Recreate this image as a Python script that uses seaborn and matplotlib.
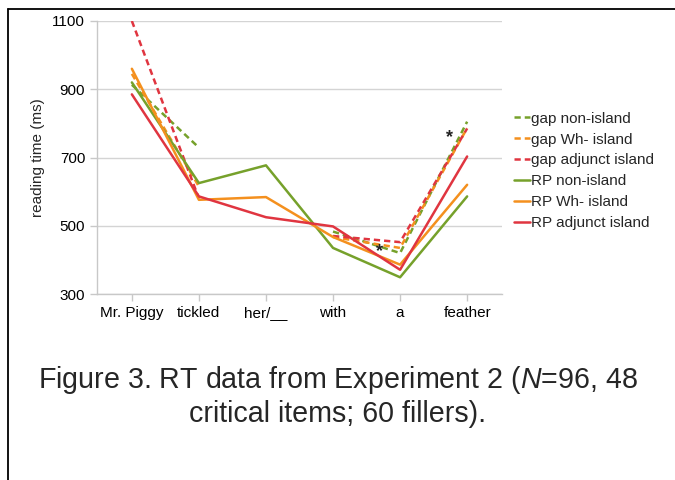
import numpy as np
import pandas as pd
import matplotlib
matplotlib.use("Agg")
import matplotlib.pyplot as plt
from matplotlib.lines import Line2D
import seaborn as sns

# ===============================
# DATA
# ===============================
words = ["Mr. Piggy", "tickled", "her/__", "with", "a", "feather"]
nan = np.nan

gap_non_island = [913, 729, nan, 483, 420, 805]
gap_wh_island = [945, 615, nan, 467, 435, 786]
gap_adjunct_island = [1100, 580, nan, 470, 452, 785]
rp_non_island = [920, 625, 677, 435, 349, 586]
rp_wh_island = [960, 576, 584, 467, 386, 620]
rp_adjunct_island = [885, 586, 525, 498, 371, 703]

series_names = ["gap non-island", "gap Wh- island", "gap adjunct island",
                "RP non-island", "RP Wh- island", "RP adjunct island"]
series_values = [gap_non_island, gap_wh_island, gap_adjunct_island,
                 rp_non_island, rp_wh_island, rp_adjunct_island]

# significance stars (x position in word units, y in ms)
star_x = [3.70, 4.73]
star_y = [423, 757]

# ===============================
# STYLE
# ===============================
sns.set_theme(style="white")
plt.rcParams["font.family"] = ["Liberation Sans", "DejaVu Sans"]
plt.rcParams["mathtext.fontset"] = "custom"
plt.rcParams["mathtext.it"] = "Liberation Sans:italic"
plt.rcParams["mathtext.rm"] = "Liberation Sans"

green = "#76a12b"
orange = "#f4901e"
red = "#e03540"
colors = [green, orange, red, green, orange, red]
styles = ["--", "--", "--", "-", "-", "-"]

df = pd.DataFrame(dict(zip(series_names, series_values)))
df["pos"] = np.arange(len(words))

fig = plt.figure(figsize=(6.75, 4.8), dpi=100)
ax = fig.add_axes([0.1437, 0.3875, 0.6, 0.56875])

# draw each series, breaking the line where a value is missing
for name, col, ls in zip(series_names, colors, styles):
    vals = df[name]
    seg_id = vals.isna().cumsum()
    for _, seg in df[vals.notna()].groupby(seg_id[vals.notna()]):
        sns.lineplot(data=seg, x="pos", y=name, ax=ax, color=col,
                     linewidth=1.8, linestyle=ls, legend=False)
        if ls == "--":
            ax.lines[-1].set_dashes((2.5, 1.6))

for sx, sy in zip(star_x, star_y):
    ax.text(sx, sy, "*", ha="center", va="center", fontsize=13,
            fontweight="bold", color="#222222")

ax.set_xlim(-0.52, 5.52)
ax.set_ylim(300, 1100)
ax.set_yticks([300, 500, 700, 900, 1100])
ax.set_xticks(range(len(words)))
ax.set_xticklabels(words)
ax.set_xlabel("")
ax.set_ylabel("reading time (ms)", fontsize=11, labelpad=5)
ax.yaxis.grid(True, color="#d4d4d4", linewidth=1)
ax.set_axisbelow(True)
for s in ["top", "right"]:
    ax.spines[s].set_visible(False)
for s in ["left", "bottom"]:
    ax.spines[s].set_color("#c8c8c8")
    ax.spines[s].set_linewidth(1)
ax.tick_params(axis="both", labelsize=11, colors="#c8c8c8", labelcolor="black",
               length=5, width=1, direction="out", bottom=True, left=True)

handles = []
for c, ls in zip(colors, styles):
    h = Line2D([0], [0], color=c, linestyle=ls, linewidth=1.8)
    if ls == "--":
        h.set_dashes((2.5, 1.6))
    handles.append(h)
fig.legend(handles, series_names, loc="upper left",
           bbox_to_anchor=(0.753, 0.78), frameon=False, fontsize=11,
           handlelength=1.0, handletextpad=0.12, labelspacing=0.45,
           borderaxespad=0)

fig.text(0.5, 0.175, "Figure 3. RT data from Experiment 2 ($N$=96, 48\ncritical items; 60 fillers).",
         ha="center", va="center", fontsize=20.6, linespacing=1.22)

# slide frame lines
fig.add_artist(Line2D([0.012, 1.0], [0.981, 0.981], color="black", linewidth=1.3))
fig.add_artist(Line2D([0.012, 0.012], [0.0, 0.981], color="black", linewidth=1.3))

fig.savefig("out.png", dpi=100, facecolor="white")
